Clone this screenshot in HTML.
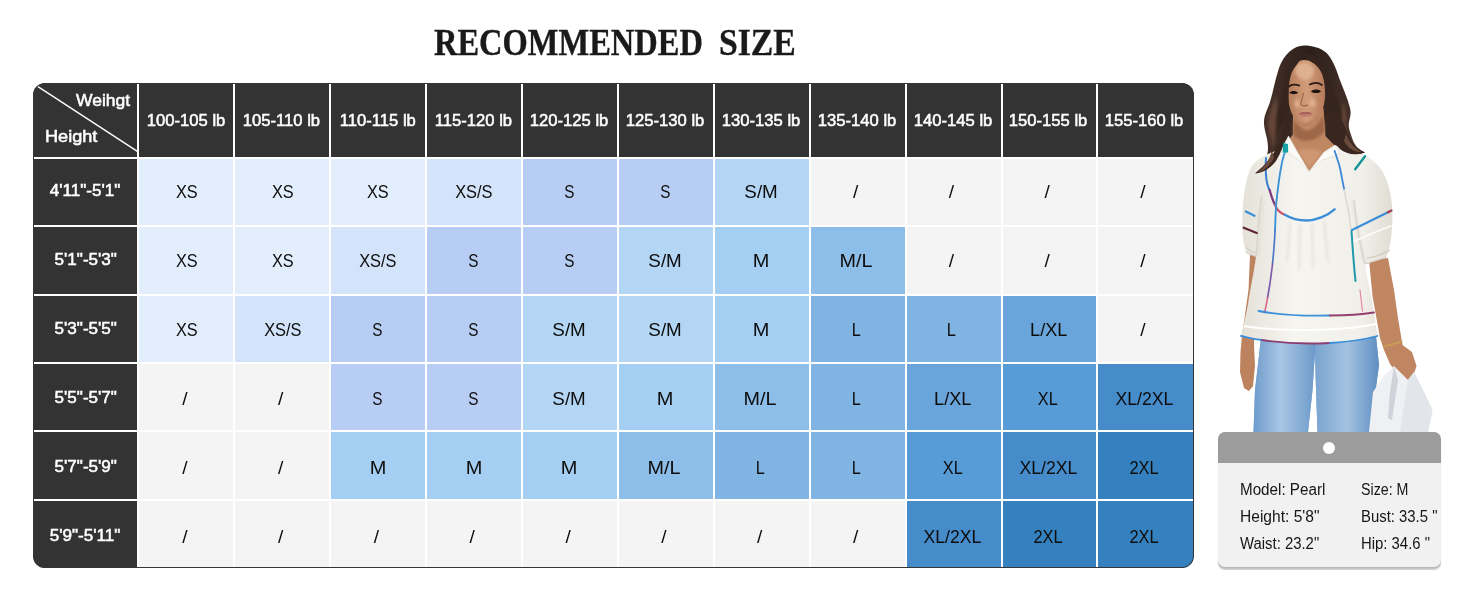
<!DOCTYPE html>
<html lang="en"><head><meta charset="utf-8"><title>Recommended Size</title>
<style>
html,body{margin:0;padding:0;background:#fff}
body{width:1464px;height:600px;position:relative;overflow:hidden;font-family:"Liberation Sans",sans-serif}
.title{position:absolute;left:0;top:19px;width:1200px;height:48px;line-height:48px;white-space:nowrap;font-family:"Liberation Serif",serif;font-weight:700;font-size:37.2px;color:#1a1a1a;-webkit-text-stroke:.35px #1a1a1a}
.title span{position:absolute;top:0;display:inline-block;transform-origin:0 50%}
.title .w1{left:433.6px;transform:scaleX(.8735)}
.title .w2{left:719.4px;transform:scaleX(.906)}
.tbl{position:absolute;left:33.3px;top:82.9px;width:1160.7px;height:485.4px;border-radius:12px;overflow:hidden;background:#fff}
.tbl:after{content:"";position:absolute;left:0;top:0;right:0;bottom:0;border-radius:12px;box-shadow:inset 0 0 0 1px #353535;pointer-events:none}
.c{position:absolute;display:flex;align-items:center;justify-content:center;white-space:nowrap;font-size:19.2px;color:#0d0d0d}
.c span{display:inline-block;position:relative;left:-.8px;top:.5px}
.d{background:#333;color:#fff;font-weight:400;font-size:17.4px;-webkit-text-stroke:.55px #fff}
.d span{transform:scaleX(.955);top:.3px;left:.2px}
.r span{top:-1px;left:0;transform:scaleX(.982)}
.k span{position:absolute;font-size:17.3px;line-height:20px;transform-origin:0 50%}
.card{position:absolute;left:1218px;top:431.5px;width:223px;height:135px;border-radius:7px;background:#f1f1f1;box-shadow:0 1.5px 0 #b9b9b9,0 2.5px 1px #d0d0d0;overflow:hidden;font-size:16px;color:#161616}
.band{position:absolute;left:0;top:0;width:100%;height:31.5px;background:#9c9c9c}
.band i{position:absolute;left:105.3px;top:10px;width:12px;height:12px;border-radius:50%;background:#fff}
.ln{position:absolute;left:0;width:100%;height:20px;line-height:20px;white-space:nowrap}
.ln span{position:absolute;top:0}
.ln .a{left:21.8px}.ln .b{left:143px}
.ln b{font-weight:400;display:inline-block;transform-origin:0 50%;transform:scaleX(.93)}
</style></head><body>
<div class="title"><span class="w1">RECOMMENDED</span> <span class="w2">SIZE</span></div>
<div class="tbl">
<div class="c d k" style="left:0;top:0;width:104.1px;height:74.1px"><svg width="104.1" height="74.1" style="position:absolute;left:0;top:0"><line x1="0" y1="0.4" x2="104.6" y2="68.6" stroke="#fff" stroke-width="1.5"/></svg><span style="left:42.5px;top:7.4px;transform:scaleX(1.012)">Weihgt</span><span style="left:11.8px;top:42.7px;transform:scaleX(1.048)">Height</span></div>
<div class="c d" style="left:106.1px;top:0px;width:93.91px;height:74.1px"><span style="left:-0.26px">100-105 lb</span></div>
<div class="c d" style="left:202.01px;top:0px;width:93.91px;height:74.1px"><span style="left:-0.35px">105-110 lb</span></div>
<div class="c d" style="left:297.92px;top:0px;width:93.91px;height:74.1px"><span style="left:-0.44px">110-115 lb</span></div>
<div class="c d" style="left:393.83px;top:0px;width:93.91px;height:74.1px"><span style="left:-0.53px">115-120 lb</span></div>
<div class="c d" style="left:489.74px;top:0px;width:93.91px;height:74.1px"><span style="left:-0.61px">120-125 lb</span></div>
<div class="c d" style="left:585.65px;top:0px;width:93.91px;height:74.1px"><span style="left:-0.71px">125-130 lb</span></div>
<div class="c d" style="left:681.56px;top:0px;width:93.91px;height:74.1px"><span style="left:-0.8px">130-135 lb</span></div>
<div class="c d" style="left:777.47px;top:0px;width:93.91px;height:74.1px"><span style="left:-0.88px">135-140 lb</span></div>
<div class="c d" style="left:873.38px;top:0px;width:93.91px;height:74.1px"><span style="left:-0.97px">140-145 lb</span></div>
<div class="c d" style="left:969.29px;top:0px;width:93.91px;height:74.1px"><span style="left:-1.07px">150-155 lb</span></div>
<div class="c d" style="left:1065.2px;top:0px;width:95.5px;height:74.1px"><span style="left:-1.95px">155-160 lb</span></div>
<div class="c d r" style="left:0px;top:76.1px;width:104.1px;height:66.35px"><span style="top:-1.73px">4'11&quot;-5'1&quot;</span></div>
<div class="c" style="left:106.1px;top:76.1px;width:93.91px;height:66.35px;background:#e3eefd"><span style="transform:scaleX(0.85);top:-0.12px;left:0.24px">XS</span></div>
<div class="c" style="left:202.01px;top:76.1px;width:93.91px;height:66.35px;background:#e3eefd"><span style="transform:scaleX(0.85);top:-0.12px;left:0.15px">XS</span></div>
<div class="c" style="left:297.92px;top:76.1px;width:93.91px;height:66.35px;background:#e3eefd"><span style="transform:scaleX(0.85);top:-0.12px;left:0.06px">XS</span></div>
<div class="c" style="left:393.83px;top:76.1px;width:93.91px;height:66.35px;background:#d3e3fa"><span style="transform:scaleX(0.855);top:-0.12px;left:0.07px">XS/S</span></div>
<div class="c" style="left:489.74px;top:76.1px;width:93.91px;height:66.35px;background:#b8cdf3"><span style="transform:scaleX(0.8);top:-0.12px;left:-0.51px">S</span></div>
<div class="c" style="left:585.65px;top:76.1px;width:93.91px;height:66.35px;background:#b8cdf3"><span style="transform:scaleX(0.8);top:-0.12px;left:-0.61px">S</span></div>
<div class="c" style="left:681.56px;top:76.1px;width:93.91px;height:66.35px;background:#b4d6f5"><span style="transform:scaleX(0.98);top:-0.12px;left:-0.7px">S/M</span></div>
<div class="c" style="left:777.47px;top:76.1px;width:93.91px;height:66.35px;background:#f4f4f4"><span style="transform:scaleX(1.0);top:-0.12px;left:-2.18px">/</span></div>
<div class="c" style="left:873.38px;top:76.1px;width:93.91px;height:66.35px;background:#f4f4f4"><span style="transform:scaleX(1.0);top:-0.12px;left:-2.28px">/</span></div>
<div class="c" style="left:969.29px;top:76.1px;width:93.91px;height:66.35px;background:#f4f4f4"><span style="transform:scaleX(1.0);top:-0.12px;left:-2.37px">/</span></div>
<div class="c" style="left:1065.2px;top:76.1px;width:95.5px;height:66.35px;background:#f4f4f4"><span style="transform:scaleX(1.0);top:-0.12px;left:-3.25px">/</span></div>
<div class="c d r" style="left:0px;top:144.45px;width:104.1px;height:66.35px"><span style="top:-1.13px">5'1&quot;-5'3&quot;</span></div>
<div class="c" style="left:106.1px;top:144.45px;width:93.91px;height:66.35px;background:#e3eefd"><span style="transform:scaleX(0.85);top:0.47px;left:0.24px">XS</span></div>
<div class="c" style="left:202.01px;top:144.45px;width:93.91px;height:66.35px;background:#e3eefd"><span style="transform:scaleX(0.85);top:0.47px;left:0.15px">XS</span></div>
<div class="c" style="left:297.92px;top:144.45px;width:93.91px;height:66.35px;background:#d3e3fa"><span style="transform:scaleX(0.855);top:0.47px;left:0.16px">XS/S</span></div>
<div class="c" style="left:393.83px;top:144.45px;width:93.91px;height:66.35px;background:#b8cdf3"><span style="transform:scaleX(0.8);top:0.47px;left:-0.43px">S</span></div>
<div class="c" style="left:489.74px;top:144.45px;width:93.91px;height:66.35px;background:#b8cdf3"><span style="transform:scaleX(0.8);top:0.47px;left:-0.51px">S</span></div>
<div class="c" style="left:585.65px;top:144.45px;width:93.91px;height:66.35px;background:#b4d6f5"><span style="transform:scaleX(0.98);top:0.47px;left:-0.61px">S/M</span></div>
<div class="c" style="left:681.56px;top:144.45px;width:93.91px;height:66.35px;background:#a5cff2"><span style="transform:scaleX(1.04);top:0.47px;left:-0.7px">M</span></div>
<div class="c" style="left:777.47px;top:144.45px;width:93.91px;height:66.35px;background:#8dbde9"><span style="transform:scaleX(1.03);top:0.47px;left:-1.98px">M/L</span></div>
<div class="c" style="left:873.38px;top:144.45px;width:93.91px;height:66.35px;background:#f4f4f4"><span style="transform:scaleX(1.0);top:0.47px;left:-2.28px">/</span></div>
<div class="c" style="left:969.29px;top:144.45px;width:93.91px;height:66.35px;background:#f4f4f4"><span style="transform:scaleX(1.0);top:0.47px;left:-2.37px">/</span></div>
<div class="c" style="left:1065.2px;top:144.45px;width:95.5px;height:66.35px;background:#f4f4f4"><span style="transform:scaleX(1.0);top:0.47px;left:-3.25px">/</span></div>
<div class="c d r" style="left:0px;top:212.8px;width:104.1px;height:66.35px"><span style="top:-0.55px">5'3&quot;-5'5&quot;</span></div>
<div class="c" style="left:106.1px;top:212.8px;width:93.91px;height:66.35px;background:#e3eefd"><span style="transform:scaleX(0.85);top:1.06px;left:0.24px">XS</span></div>
<div class="c" style="left:202.01px;top:212.8px;width:93.91px;height:66.35px;background:#d3e3fa"><span style="transform:scaleX(0.855);top:1.06px;left:0.25px">XS/S</span></div>
<div class="c" style="left:297.92px;top:212.8px;width:93.91px;height:66.35px;background:#b8cdf3"><span style="transform:scaleX(0.8);top:1.06px;left:-0.34px">S</span></div>
<div class="c" style="left:393.83px;top:212.8px;width:93.91px;height:66.35px;background:#b8cdf3"><span style="transform:scaleX(0.8);top:1.06px;left:-0.43px">S</span></div>
<div class="c" style="left:489.74px;top:212.8px;width:93.91px;height:66.35px;background:#b4d6f5"><span style="transform:scaleX(0.98);top:1.06px;left:-0.51px">S/M</span></div>
<div class="c" style="left:585.65px;top:212.8px;width:93.91px;height:66.35px;background:#b4d6f5"><span style="transform:scaleX(0.98);top:1.06px;left:-0.61px">S/M</span></div>
<div class="c" style="left:681.56px;top:212.8px;width:93.91px;height:66.35px;background:#a5cff2"><span style="transform:scaleX(1.04);top:1.06px;left:-0.7px">M</span></div>
<div class="c" style="left:777.47px;top:212.8px;width:93.91px;height:66.35px;background:#7fb4e3"><span style="transform:scaleX(0.85);top:1.06px;left:-1.78px">L</span></div>
<div class="c" style="left:873.38px;top:212.8px;width:93.91px;height:66.35px;background:#7fb4e3"><span style="transform:scaleX(0.85);top:1.06px;left:-1.88px">L</span></div>
<div class="c" style="left:969.29px;top:212.8px;width:93.91px;height:66.35px;background:#69a4da"><span style="transform:scaleX(0.945);top:1.06px;left:-0.97px">L/XL</span></div>
<div class="c" style="left:1065.2px;top:212.8px;width:95.5px;height:66.35px;background:#f4f4f4"><span style="transform:scaleX(1.0);top:1.06px;left:-3.25px">/</span></div>
<div class="c d r" style="left:0px;top:281.15px;width:104.1px;height:66.35px"><span style="top:0.04px">5'5&quot;-5'7&quot;</span></div>
<div class="c" style="left:106.1px;top:281.15px;width:93.91px;height:66.35px;background:#f4f4f4"><span style="transform:scaleX(1.0);top:1.64px;left:-1.56px">/</span></div>
<div class="c" style="left:202.01px;top:281.15px;width:93.91px;height:66.35px;background:#f4f4f4"><span style="transform:scaleX(1.0);top:1.64px;left:-1.65px">/</span></div>
<div class="c" style="left:297.92px;top:281.15px;width:93.91px;height:66.35px;background:#b8cdf3"><span style="transform:scaleX(0.8);top:1.64px;left:-0.34px">S</span></div>
<div class="c" style="left:393.83px;top:281.15px;width:93.91px;height:66.35px;background:#b8cdf3"><span style="transform:scaleX(0.8);top:1.64px;left:-0.43px">S</span></div>
<div class="c" style="left:489.74px;top:281.15px;width:93.91px;height:66.35px;background:#b4d6f5"><span style="transform:scaleX(0.98);top:1.64px;left:-0.51px">S/M</span></div>
<div class="c" style="left:585.65px;top:281.15px;width:93.91px;height:66.35px;background:#a5cff2"><span style="transform:scaleX(1.04);top:1.64px;left:-0.61px">M</span></div>
<div class="c" style="left:681.56px;top:281.15px;width:93.91px;height:66.35px;background:#8dbde9"><span style="transform:scaleX(1.03);top:1.64px;left:-1.9px">M/L</span></div>
<div class="c" style="left:777.47px;top:281.15px;width:93.91px;height:66.35px;background:#7fb4e3"><span style="transform:scaleX(0.85);top:1.64px;left:-1.78px">L</span></div>
<div class="c" style="left:873.38px;top:281.15px;width:93.91px;height:66.35px;background:#69a4da"><span style="transform:scaleX(0.945);top:1.64px;left:-0.88px">L/XL</span></div>
<div class="c" style="left:969.29px;top:281.15px;width:93.91px;height:66.35px;background:#589cd7"><span style="transform:scaleX(0.85);top:1.64px;left:-1.37px">XL</span></div>
<div class="c" style="left:1065.2px;top:281.15px;width:95.5px;height:66.35px;background:#468ccb"><span style="transform:scaleX(0.92);top:1.64px;left:-2.05px">XL/2XL</span></div>
<div class="c d r" style="left:0px;top:349.5px;width:104.1px;height:66.35px"><span style="top:0.63px">5'7&quot;-5'9&quot;</span></div>
<div class="c" style="left:106.1px;top:349.5px;width:93.91px;height:66.35px;background:#f4f4f4"><span style="transform:scaleX(1.0);top:2.23px;left:-1.56px">/</span></div>
<div class="c" style="left:202.01px;top:349.5px;width:93.91px;height:66.35px;background:#f4f4f4"><span style="transform:scaleX(1.0);top:2.23px;left:-1.65px">/</span></div>
<div class="c" style="left:297.92px;top:349.5px;width:93.91px;height:66.35px;background:#a5cff2"><span style="transform:scaleX(1.04);top:2.23px;left:-0.34px">M</span></div>
<div class="c" style="left:393.83px;top:349.5px;width:93.91px;height:66.35px;background:#a5cff2"><span style="transform:scaleX(1.04);top:2.23px;left:-0.43px">M</span></div>
<div class="c" style="left:489.74px;top:349.5px;width:93.91px;height:66.35px;background:#a5cff2"><span style="transform:scaleX(1.04);top:2.23px;left:-0.51px">M</span></div>
<div class="c" style="left:585.65px;top:349.5px;width:93.91px;height:66.35px;background:#8dbde9"><span style="transform:scaleX(1.03);top:2.23px;left:-1.81px">M/L</span></div>
<div class="c" style="left:681.56px;top:349.5px;width:93.91px;height:66.35px;background:#7fb4e3"><span style="transform:scaleX(0.85);top:2.23px;left:-1.7px">L</span></div>
<div class="c" style="left:777.47px;top:349.5px;width:93.91px;height:66.35px;background:#7fb4e3"><span style="transform:scaleX(0.85);top:2.23px;left:-1.78px">L</span></div>
<div class="c" style="left:873.38px;top:349.5px;width:93.91px;height:66.35px;background:#589cd7"><span style="transform:scaleX(0.85);top:2.23px;left:-1.28px">XL</span></div>
<div class="c" style="left:969.29px;top:349.5px;width:93.91px;height:66.35px;background:#468ccb"><span style="transform:scaleX(0.92);top:2.23px;left:-1.17px">XL/2XL</span></div>
<div class="c" style="left:1065.2px;top:349.5px;width:95.5px;height:66.35px;background:#3580be"><span style="transform:scaleX(0.855);top:2.23px;left:-2.35px">2XL</span></div>
<div class="c d r" style="left:0px;top:417.85px;width:104.1px;height:67.55px"><span style="top:0.63px">5'9&quot;-5'11&quot;</span></div>
<div class="c" style="left:106.1px;top:417.85px;width:93.91px;height:67.55px;background:#f4f4f4"><span style="transform:scaleX(1.0);top:2.23px;left:-1.56px">/</span></div>
<div class="c" style="left:202.01px;top:417.85px;width:93.91px;height:67.55px;background:#f4f4f4"><span style="transform:scaleX(1.0);top:2.23px;left:-1.65px">/</span></div>
<div class="c" style="left:297.92px;top:417.85px;width:93.91px;height:67.55px;background:#f4f4f4"><span style="transform:scaleX(1.0);top:2.23px;left:-1.74px">/</span></div>
<div class="c" style="left:393.83px;top:417.85px;width:93.91px;height:67.55px;background:#f4f4f4"><span style="transform:scaleX(1.0);top:2.23px;left:-1.83px">/</span></div>
<div class="c" style="left:489.74px;top:417.85px;width:93.91px;height:67.55px;background:#f4f4f4"><span style="transform:scaleX(1.0);top:2.23px;left:-1.91px">/</span></div>
<div class="c" style="left:585.65px;top:417.85px;width:93.91px;height:67.55px;background:#f4f4f4"><span style="transform:scaleX(1.0);top:2.23px;left:-2.01px">/</span></div>
<div class="c" style="left:681.56px;top:417.85px;width:93.91px;height:67.55px;background:#f4f4f4"><span style="transform:scaleX(1.0);top:2.23px;left:-2.1px">/</span></div>
<div class="c" style="left:777.47px;top:417.85px;width:93.91px;height:67.55px;background:#f4f4f4"><span style="transform:scaleX(1.0);top:2.23px;left:-2.18px">/</span></div>
<div class="c" style="left:873.38px;top:417.85px;width:93.91px;height:67.55px;background:#468ccb"><span style="transform:scaleX(0.92);top:2.23px;left:-1.08px">XL/2XL</span></div>
<div class="c" style="left:969.29px;top:417.85px;width:93.91px;height:67.55px;background:#3580be"><span style="transform:scaleX(0.855);top:2.23px;left:-1.47px">2XL</span></div>
<div class="c" style="left:1065.2px;top:417.85px;width:95.5px;height:67.55px;background:#3580be"><span style="transform:scaleX(0.855);top:2.23px;left:-2.35px">2XL</span></div>
</div>
<svg class="mdl" width="260" height="410" viewBox="1204 30 260 410" style="position:absolute;left:1204px;top:30px">
<defs>
<linearGradient id="jl" x1="0" x2="1" y1="0" y2="0"><stop offset="0" stop-color="#6f9ccb"/><stop offset=".45" stop-color="#a9c6e4"/><stop offset="1" stop-color="#6d9bcb"/></linearGradient>
<linearGradient id="jr" x1="0" x2="1" y1="0" y2="0"><stop offset="0" stop-color="#7aa4d0"/><stop offset=".5" stop-color="#a4c2e2"/><stop offset="1" stop-color="#5f8fc2"/></linearGradient>
<linearGradient id="hr" x1="0" x2="1" y1="0" y2="0"><stop offset="0" stop-color="#4a342b"/><stop offset=".5" stop-color="#2c1f1b"/><stop offset="1" stop-color="#4b352c"/></linearGradient>
<linearGradient id="sk" x1="0" x2="1" y1="0" y2="0"><stop offset="0" stop-color="#b67d5c"/><stop offset=".5" stop-color="#d29c79"/><stop offset="1" stop-color="#b57a59"/></linearGradient>
<linearGradient id="bl" x1="0" x2="1" y1="0" y2="0"><stop offset="0" stop-color="#e4e1d8"/><stop offset=".35" stop-color="#f6f5f0"/><stop offset=".8" stop-color="#f1efe9"/><stop offset="1" stop-color="#e0ddd4"/></linearGradient>
<filter id="b1" x="-30%" y="-30%" width="160%" height="160%"><feGaussianBlur stdDeviation="1.6"/></filter><filter id="b2" x="-30%" y="-30%" width="160%" height="160%"><feGaussianBlur stdDeviation="2.5"/></filter><clipPath id="fc"><path d="M1303 60 C1295 61 1289.500 70 1288.200 82 C1287.200 92 1288.200 102 1290.500 110 C1293 117.500 1299 127 1305.200 127 C1311 127 1318.500 119 1321.800 112 C1324.800 104.500 1326 94 1325 84 C1323.800 72 1315 59 1303 60 Z"/></clipPath>
</defs>
<!-- jeans -->
<path d="M1261 338 L1255 390 L1253.5 432 L1308 432 L1312.5 390 L1315 352 L1316 390 L1317.5 432 L1370 432 L1375 395 L1379 365 L1376 336 Z" fill="#7fa8d3"/>
<path d="M1261 338 L1255 390 L1253.5 432 L1308 432 L1312.5 390 L1315 352 L1315 338 Z" fill="url(#jl)"/>
<path d="M1315 338 L1315 352 L1316 390 L1317.5 432 L1370 432 L1375 395 L1379 365 L1376 336 Z" fill="url(#jr)"/>
<!-- back hair -->
<path d="M1304 45.500 C1294 45.500 1284 54 1279 68 C1275 80 1273 92 1270 102 C1267 111 1263.500 116 1264 124 C1264.500 132 1268 138 1268 148 C1268 156 1264 162 1255 174.500 C1264 174 1271 169 1277 160 L1290 140 L1336 150 C1343 155 1353 157 1365 152.500 C1357 149 1354 144 1352 138 C1350 131 1348 128 1349 122 C1350 117 1351.500 114 1350 108 C1347.500 98 1343 88 1339.500 79 C1336 68 1332 58 1326 52.500 C1320 47.500 1312 45.500 1304 45.500 Z" fill="url(#hr)"/>
<!-- neck + chest -->
<path d="M1293 112 L1293 134 L1289 140 L1308.700 171.500 L1335 146 L1325.500 136 L1323.500 108 Z" fill="#c08763"/>
<path d="M1293.500 118 C1299 128 1304 130.500 1308 130.500 C1313 130 1319 124 1323.500 114 L1324.500 132 C1318 138 1312 141 1306 141 C1300 141 1296 138 1293 134 Z" fill="#9c6646" filter="url(#b1)"/>
<path d="M1298 150 L1308.700 168 L1322 152 C1314 149 1306 148.500 1298 150 Z" fill="#cf9874" filter="url(#b1)"/>
<!-- face -->
<path d="M1303 60 C1295 61 1289.500 70 1288.200 82 C1287.200 92 1288.200 102 1290.500 110 C1293 117.500 1299 127 1305.200 127 C1311 127 1318.500 119 1321.800 112 C1324.800 104.500 1326 94 1325 84 C1323.800 72 1315 59 1303 60 Z" fill="url(#sk)"/>
<g clip-path="url(#fc)"><path d="M1296 66 C1300 62 1308 62 1313 67 C1316 72 1312 80 1305 80 C1298 80 1293.500 72 1296 66 Z" fill="#e0b494" opacity=".9" filter="url(#b1)"/>
<path d="M1297 98 C1299 102 1301 104 1301.500 106 L1296 108 C1294 104 1294.500 100 1297 98 Z M1311 97 C1310 101 1308.500 104 1308 106 L1315 107 C1317 103 1315 99 1311 97 Z" fill="#e0b394" opacity=".9" filter="url(#b1)"/>
<path d="M1288.600 86.800 C1291 84.400 1295.500 83.800 1299.200 85.600" stroke="#2a1a14" stroke-width="1.700" fill="none" stroke-linecap="round"/>
<path d="M1309.800 84.600 C1313.500 82.400 1318.500 82.400 1322 85" stroke="#2a1a14" stroke-width="1.700" fill="none" stroke-linecap="round"/>
<path d="M1289.200 92.600 C1291.500 90.400 1296 90.400 1298.200 93 C1295.500 94.600 1291.500 94.600 1289.200 92.600 Z" fill="#1f1410"/>
<path d="M1311 91.400 C1313.500 89 1318.500 89 1321 91.400 C1318.500 93.400 1313.500 93.600 1311 91.400 Z" fill="#1f1410"/>
<path d="M1303.500 93 C1302.800 98 1301 102 1300.500 104.500 C1302 106.200 1306 106.400 1308 104.800" stroke="#9c6446" stroke-width="1.100" fill="none"/>
<path d="M1298.200 114.200 C1300.500 112.200 1303.500 111.600 1305.200 112.400 C1307 111.600 1310 112 1312.400 113.800 C1310 114.800 1301 115 1298.200 114.200 Z" fill="#a65e58"/>
<path d="M1298.200 114.200 C1301 115 1310 114.800 1312.400 113.800 C1310.500 117.800 1300.500 118.200 1298.200 114.200 Z" fill="#c27c74"/>
<path d="M1290.500 110 C1293 117.500 1299 127 1305.200 127 C1311 127 1318.500 119 1321.800 112 C1318 118 1311 123.500 1305.200 123.500 C1299.500 123.500 1294 117 1290.500 110 Z" fill="#a86f50" opacity=".8" filter="url(#b1)"/></g>
<!-- front hair over face sides -->
<path d="M1303 53 C1295 56 1288.500 64 1285.500 76 C1283 88 1282 100 1278 112 C1274 124 1270 132 1271 144 C1276 134 1285 124 1288 108 C1289.500 96 1287.500 82 1292 72 C1295 66 1300 62 1303 53 Z" fill="#36251f"/>
<path d="M1303 53 C1312 53 1322 60 1326.500 72 C1330 82 1333 92 1338 102 C1342 110 1346 118 1345 130 C1340 122 1330 114 1326.500 102 C1324 90 1326 78 1319 68 C1314 62 1306 60 1303 53 Z" fill="#36251f"/>
<path d="M1276 96 C1272 108 1268 116 1268.500 126 C1269 134 1272 140 1272 150 C1276 140 1276 130 1276 122 C1276 114 1278 106 1276 96 Z" fill="#6a4a3b" opacity=".9" filter="url(#b1)"/>
<path d="M1342 100 C1345 108 1347 114 1346 122 C1345 130 1349 138 1354 146 C1349 144 1344 136 1342.500 128 C1341 118 1343 110 1342 100 Z" fill="#6a4a3b" opacity=".9" filter="url(#b1)"/>
<!-- arms -->
<path d="M1250 255 L1248.500 290 L1242 336 L1240.500 352 L1240 372 L1244 388 L1249 391 L1253 386 L1255 366 L1254 345 L1256 300 L1257.500 256 Z" fill="#bd835f"/>
<path d="M1369 260 L1372.500 296 L1380 338 L1384 350 L1390 364 L1396 372 L1404 386 L1412 380 L1416.500 366 L1412 352 L1402.500 345 L1398 318 L1394 290 L1388 258 Z" fill="#c08661"/>
<path d="M1383.500 346.500 L1402.500 341.500" stroke="#c9a24f" stroke-width="1.800"/>
<!-- bag -->
<path d="M1394 366 L1400 372 L1408 380 L1414 372 L1424 392 L1432.500 410 L1428 432 L1369 432 L1373 392 L1384 376 Z" fill="#eef0f4"/>
<path d="M1394 366 L1390 392 L1388 418 L1392 420 L1398 380 Z" fill="#cfd2d8"/>
<path d="M1408 380 L1414 372 L1424 392 L1432.500 410 L1428 432 L1400 432 Z" fill="#e2e5ea"/>
<!-- blouse -->
<path d="M1288.500 136 L1280 150 C1270 152 1258 158 1252 166 C1246 176 1243 196 1242.500 214 C1242 228 1242 240 1246 252.500 L1256 256.500 C1254 272 1250 290 1248 304 C1246 316 1243 326 1241 336 C1262 341 1284 343.500 1305 343.500 C1330 343.500 1356 341 1377.500 336 C1376 324 1374 312 1372 300 C1370 288 1366 276 1365 264 L1386 257.500 C1390 250 1392 236 1392.500 214 C1392 196 1388 178 1380 168 C1374 160 1366 154 1352 152 L1335 145 L1309 171.500 Z" fill="url(#bl)"/>
<!-- blouse shading / gathers -->
<path d="M1256 256.500 C1258 236 1258 214 1262 196" stroke="#d9d6cc" stroke-width="1.500" fill="none"/>
<path d="M1365 264 C1360 244 1356 222 1354 200" stroke="#d9d6cc" stroke-width="1.500" fill="none"/>
<path d="M1246 252.500 L1256 256.500" stroke="#d0cdc3" stroke-width="1.200"/>
<path d="M1365 264 L1386 257.500" stroke="#d0cdc3" stroke-width="1.200"/>
<path d="M1244 326 C1270 331 1340 332 1376 324" stroke="#fff" stroke-width="2" fill="none"/>
<g stroke="#d6d3ca" stroke-width="1.300" fill="none" filter="url(#b1)" opacity=".9"><path d="M1290 222 L1287 262"/><path d="M1300 224 L1299 270"/><path d="M1312 224 L1313 268"/><path d="M1324 221 L1328 262"/><path d="M1263 200 C1260 222 1259 240 1258 256"/><path d="M1352 200 C1356 222 1360 240 1364 262"/></g>
<path d="M1246 247 C1249 251 1254 253 1257 252" stroke="#cfccc2" stroke-width="1.200" fill="none"/><path d="M1367 258 C1374 257 1384 254 1390 250" stroke="#cfccc2" stroke-width="1.200" fill="none"/>
<!-- collar -->
<path d="M1288.500 136 L1283 150 L1296 158 L1309 171.500 L1296 150 Z" fill="#fbfaf6" stroke="#dcd9cf" stroke-width=".6"/>
<path d="M1335 145 L1340 154 L1322 160 L1309 171.500 L1324 152 Z" fill="#fbfaf6" stroke="#dcd9cf" stroke-width=".6"/>
<!-- trims -->
<g fill="none" stroke-linecap="round">
<path d="M1266 158 C1265 176 1266 184 1269.600 190" stroke="#3b7fd0" stroke-width="2"/>
<path d="M1269.600 190 C1271.500 197 1273 201 1275 205" stroke="#7b3a7e" stroke-width="2.200"/>
<path d="M1275 205 C1277 210 1280 213 1284.800 214.700" stroke="#c7566e" stroke-width="2.200"/>
<path d="M1284.800 214.700 C1292 219 1300 220.500 1306.500 220.500 C1316 220.500 1327 216 1334.600 209.300" stroke="#3b8fd9" stroke-width="2.400"/>
<path d="M1285 152 C1281 162 1278 186 1276.100 205 C1275.500 216 1275.200 224 1275 231" stroke="#3b92d6" stroke-width="1.900"/>
<path d="M1275 231 C1274.500 244 1273.500 254 1272.500 264" stroke="#4d78c8" stroke-width="1.700"/>
<path d="M1272.500 264 C1271 278 1269 290 1267.500 298" stroke="#7a55a8" stroke-width="1.600"/>
<path d="M1267.500 298 C1266.500 304 1265.500 308 1265 311" stroke="#d76a8e" stroke-width="1.600"/>
<path d="M1334.600 150.800 C1337 158 1339 164 1340 168 C1342 178 1343 184 1344.300 189.800" stroke="#3d86d6" stroke-width="1.800"/>
<path d="M1344.300 189.800 C1346 200 1348 208 1348.700 211.500 L1350.800 228.800" stroke="#dedbd2" stroke-width="1.800"/>
<path d="M1351.500 231 C1352.500 246 1353.500 262 1355.500 281" stroke="#1f9aa9" stroke-width="2"/>
<path d="M1365 156.200 L1355.200 169.200" stroke="#15969c" stroke-width="2.400"/>
<path d="M1352 229.900 L1388.500 212" stroke="#3b8fd9" stroke-width="2.200"/>
<path d="M1388 212.300 L1391.500 210.600" stroke="#a33b4c" stroke-width="2.200"/>
<path d="M1354 241.500 C1366 236 1380 230 1391 226" stroke="#fdfcf8" stroke-width="1.600"/>
<path d="M1245.800 211.500 L1254.500 215.800" stroke="#3b8fd9" stroke-width="2.200"/>
<path d="M1243.700 227.700 L1256.700 233.100" stroke="#5f2436" stroke-width="2.200"/>
<path d="M1258.500 311 C1280 315 1310 316 1330 315.500" stroke="#3b8fd9" stroke-width="1.800"/>
<path d="M1330 315.500 C1346 315.500 1362 314.500 1374 312.500" stroke="#93406e" stroke-width="1.800"/>
<path d="M1241 336 C1250 338 1256 339.500 1262 340" stroke="#3b8fd9" stroke-width="1.800"/>
<path d="M1262 340 C1284 343.500 1310 344 1330 343" stroke="#8a3f72" stroke-width="1.800"/>
<path d="M1330 343 C1350 342 1366 339 1377.500 336" stroke="#3b8fd9" stroke-width="1.800"/>
<path d="M1360 290 L1362.500 311" stroke="#e58fa6" stroke-width="1.300"/>
</g>
<!-- hair strands over shoulders -->
<path d="M1287 116 C1285 132 1279 146 1271 157 C1265 165 1259 170 1255 173.500 C1263 173 1271 168 1276 161 C1281 153 1284 144 1286 136 C1288 130 1290 124 1292 120 Z" fill="#38261f"/>
<path d="M1272 150 C1270 160 1264 167 1257 173 C1264 171 1270 166 1274 158 Z" fill="#6a4b3c"/>
<path d="M1324 114 C1326 128 1332 141 1340 149 C1346 154 1355 156 1365 152.500 C1357 149 1352 144 1349 136 C1346 129 1343 121 1337 111 Z" fill="#38261f"/>
<path d="M1346 134 C1349 142 1354 148 1362 152 C1354 152.500 1348 148 1344 141 Z" fill="#6a4b3c"/>
<path d="M1283.200 143 L1288 144 L1288.200 152.500 L1282.600 152.500 Z" fill="#17a3a6"/>
</svg>
<div class="card"><div class="band"><i></i></div>
<div class="ln" style="top:48.5px"><span class="a"><b style="transform:scaleX(.95)">Model: Pearl</b></span><span class="b"><b style="transform:scaleX(.89)">Size: M</b></span></div>
<div class="ln" style="top:75.5px"><span class="a"><b style="transform:scaleX(.973)">Height: 5'8&quot;</b></span><span class="b"><b>Bust: 33.5 &quot;</b></span></div>
<div class="ln" style="top:102.5px"><span class="a"><b>Waist: 23.2&quot;</b></span><span class="b"><b>Hip: 34.6 &quot;</b></span></div>
</div>

</body></html>
